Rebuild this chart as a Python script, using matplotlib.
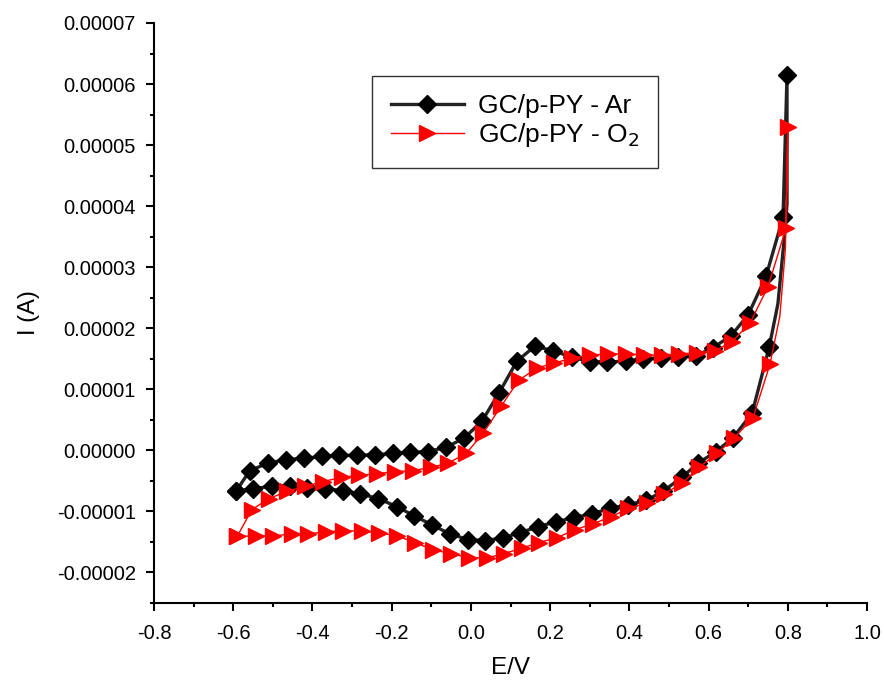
import matplotlib
matplotlib.use("Agg")
import matplotlib.pyplot as plt
from matplotlib.ticker import MultipleLocator, FormatStrFormatter

plt.rcParams["font.family"] = ["Liberation Sans", "DejaVu Sans"]

# GC/p-PY in Ar: forward scan (-0.6 -> 0.8) then reverse scan (0.8 -> -0.6)
ar_fwd_e = [-0.593, -0.558, -0.512, -0.467, -0.421, -0.376, -0.333, -0.287, -0.242,
            -0.197, -0.154, -0.108, -0.063, -0.017, 0.028, 0.071, 0.116, 0.162,
            0.207, 0.255, 0.301, 0.344, 0.392, 0.435, 0.480, 0.523, 0.568, 0.611,
            0.657, 0.700, 0.745, 0.788, 0.798]
ar_fwd_i = [-6.7, -3.3, -2.1, -1.5, -1.3, -1.0, -0.8, -0.8, -0.7,
            -0.5, -0.3, -0.2, 0.5, 2.0, 4.8, 9.4, 14.6, 17.1,
            16.3, 15.3, 14.5, 14.5, 14.6, 15.0, 15.1, 15.3, 15.5, 16.8,
            18.8, 22.2, 28.5, 38.2, 61.4]
ar_rev_e = [0.798, 0.790, 0.775, 0.753, 0.710, 0.662, 0.619, 0.573, 0.533, 0.485,
            0.442, 0.397, 0.351, 0.306, 0.260, 0.215, 0.169, 0.124, 0.081,
            0.036, -0.007, -0.053, -0.098, -0.144, -0.187, -0.234, -0.280,
            -0.323, -0.368, -0.414, -0.457, -0.502, -0.550, -0.593]
ar_rev_i = [40.4, 34.0, 24.0, 16.9, 6.1, 2.1, -0.2, -2.1, -4.4, -6.7,
            -8.2, -8.9, -9.5, -10.4, -11.0, -11.7, -12.5, -13.5, -14.3,
            -14.8, -14.6, -13.7, -12.2, -10.7, -9.2, -7.9, -7.1,
            -6.6, -6.25, -6.1, -5.8, -5.9, -6.25, -6.7]

# GC/p-PY in O2
o2_fwd_e = [-0.590, -0.553, -0.510, -0.464, -0.419, -0.373, -0.325, -0.282, -0.237,
            -0.192, -0.146, -0.101, -0.058, -0.012, 0.031, 0.076, 0.121, 0.167,
            0.210, 0.255, 0.301, 0.346, 0.392, 0.437, 0.483, 0.525, 0.571, 0.616,
            0.659, 0.705, 0.750, 0.796, 0.800]
o2_fwd_i = [-14.1, -9.7, -7.9, -6.7, -5.9, -5.1, -4.4, -4.1, -3.8,
            -3.5, -3.3, -2.8, -2.1, -0.5, 2.8, 7.2, 11.5, 13.5,
            14.3, 15.1, 15.6, 15.8, 15.8, 15.6, 15.6, 15.8, 16.0, 16.3,
            17.8, 20.9, 26.8, 36.5, 53.0]
o2_rev_e = [0.800, 0.794, 0.780, 0.755, 0.712, 0.664, 0.621, 0.576, 0.533, 0.488,
            0.445, 0.397, 0.354, 0.308, 0.263, 0.217, 0.172, 0.129, 0.084,
            0.041, -0.005, -0.050, -0.096, -0.141, -0.187, -0.232, -0.275,
            -0.323, -0.366, -0.411, -0.452, -0.500, -0.542, -0.590]
o2_rev_i = [53.0, 33.0, 22.0, 14.1, 5.3, 2.0, -0.5, -2.8, -5.4, -7.1,
            -8.6, -9.5, -10.9, -12.0, -13.0, -14.3, -15.1, -16.0, -16.9,
            -17.6, -17.6, -16.9, -16.3, -15.1, -14.0, -13.5, -13.2,
            -13.2, -13.3, -13.7, -13.7, -14.0, -14.0, -14.1]

ar_e = ar_fwd_e + ar_rev_e
ar_i = [v * 1e-6 for v in ar_fwd_i + ar_rev_i]
o2_e = o2_fwd_e + o2_rev_e
o2_i = [v * 1e-6 for v in o2_fwd_i + o2_rev_i]

# no markers on the few points of the steep return at 0.8 V
n_ar = len(ar_fwd_e)
ar_marks = list(range(n_ar)) + list(range(n_ar + 3, len(ar_e)))
n_o2 = len(o2_fwd_e)
o2_marks = list(range(n_o2)) + list(range(n_o2 + 3, len(o2_e)))

fig = plt.figure(figsize=(8.84, 6.82), dpi=100)
ax = fig.add_axes([0.1742, 0.1158, 0.8066, 0.8505])

ax.plot(ar_e, ar_i, color="#222222", lw=2.4, marker="D", ms=9.5,
        mfc="black", mec="black", markevery=ar_marks, label="GC/p-PY - Ar")
ax.plot(o2_e, o2_i, color="red", lw=1.0, marker=">", ms=12,
        mfc="red", mec="red", markevery=o2_marks, label="GC/p-PY - O$_2$")

ax.set_xlim(-0.8, 1.0)
ax.set_ylim(-0.000025, 0.00007)
ax.xaxis.set_major_locator(MultipleLocator(0.2))
ax.xaxis.set_minor_locator(MultipleLocator(0.1))
ax.yaxis.set_major_locator(MultipleLocator(0.00001))
ax.yaxis.set_minor_locator(MultipleLocator(0.000005))
ax.xaxis.set_major_formatter(FormatStrFormatter("%.1f"))
ax.yaxis.set_major_formatter(FormatStrFormatter("%.5f"))

for s in ["top", "right"]:
    ax.spines[s].set_visible(False)
for s in ["left", "bottom"]:
    ax.spines[s].set_linewidth(1.5)
ax.tick_params(which="major", direction="out", length=6, width=1.5, labelsize=14.5)
ax.tick_params(which="minor", direction="out", length=3, width=1.5)
ax.tick_params(axis="y", which="major", pad=7)
ax.tick_params(axis="x", which="major", pad=9)

ax.set_xlabel("E/V", fontsize=17.5, labelpad=10)
ax.set_ylabel("I (A)", fontsize=17, labelpad=12)

leg = ax.legend(loc="upper left", bbox_to_anchor=(0.3058, 0.9086), fontsize=19,
                frameon=True, fancybox=False, edgecolor="black",
                handlelength=2.8, handletextpad=0.5, borderpad=0.7,
                labelspacing=0.1, borderaxespad=0)
leg.get_frame().set_linewidth(1.0)

fig.savefig("out.png", dpi=100)
